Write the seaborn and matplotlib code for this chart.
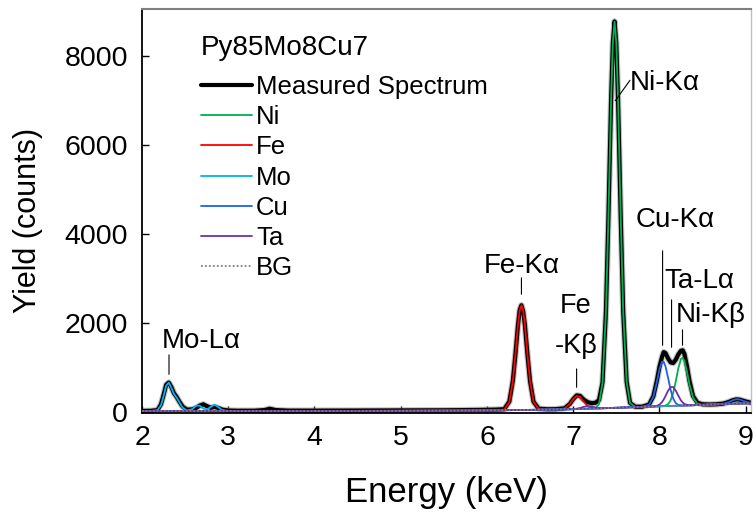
"""EDX spectrum of Py85Mo8Cu7: measured spectrum with fitted element lines and background."""

import numpy as np
import matplotlib
matplotlib.use("Agg")
import matplotlib.pyplot as plt
import matplotlib.patheffects as pe
import seaborn as sns

# energy grid (keV), denser around the peaks
energy = [2.00, 2.10, 2.18, 2.22, 2.25, 2.28, 2.31, 2.34, 2.37, 2.40, 2.43, 2.47, 2.52, 2.58, 2.63, 2.67, 2.71, 2.75, 2.80, 2.84, 2.88, 2.93, 3.00, 3.10,
          3.30, 3.42, 3.48, 3.55, 3.70, 4.00, 4.50, 5.00, 5.50, 5.90, 6.10,
          6.20, 6.26, 6.30, 6.33, 6.36, 6.38, 6.40, 6.42, 6.44, 6.47, 6.50, 6.54, 6.60, 6.70,
          6.80, 6.90, 6.96, 7.00, 7.04, 7.08, 7.12, 7.17, 7.22, 7.26, 7.30, 7.34, 7.38, 7.41, 7.44, 7.46, 7.48, 7.50, 7.52, 7.55, 7.58, 7.62, 7.66, 7.72, 7.80,
          7.88, 7.93, 7.97, 8.00, 8.03, 8.05, 8.07, 8.10, 8.13, 8.16, 8.19, 8.22, 8.25, 8.27, 8.29, 8.32, 8.35, 8.39, 8.44, 8.50, 8.58,
          8.66, 8.74, 8.80, 8.85, 8.89, 8.93, 8.98, 9.04, 9.10]

# measured spectrum (counts)
measured = [15, 18, 35, 165, 375, 605, 655, 555, 415, 335, 235, 115, 45, 50, 85, 135, 165, 125, 85, 105, 85, 45, 25, 20,
            20, 35, 65, 35, 22, 22, 24, 28, 30, 38, 45,
            55, 227, 688, 1281, 1951, 2290, 2396, 2260, 1953, 1284, 683, 224, 65, 53,
            55, 75, 170, 280, 365, 355, 275, 210, 190, 200, 260, 655, 2250, 4480, 7050, 8310, 8790, 8310, 7060, 4490, 2260, 670, 195, 110, 110,
            160, 345, 690, 1000, 1230, 1340, 1320, 1200, 1110, 1095, 1170, 1290, 1370, 1380, 1300, 1020, 680, 350, 200, 165, 160,
            165, 180, 215, 255, 275, 270, 240, 210, 200]

# fitted background (counts)
bg = [15, 15, 15, 15, 15, 15, 15, 15, 15, 15, 15, 15, 15, 15, 15, 15, 15, 15, 15, 15, 15, 15, 15, 15,
      15, 15, 15, 15, 15, 15, 16, 18, 21, 26, 30,
      32, 33, 34, 35, 35, 36, 36, 37, 37, 38, 39, 40, 42, 45,
      48, 51, 53, 55, 57, 59, 61, 64, 67, 70, 72, 75, 78, 80, 82, 83, 85, 86, 87, 89, 92, 94, 97, 101, 107,
      112, 115, 118, 120, 122, 123, 124, 126, 128, 130, 131, 133, 135, 136, 137, 139, 141, 144, 148, 152, 158,
      164, 170, 174, 177, 180, 182, 185, 188, 190]

# fitted element lines above background (counts)
ni_peak = [0] * 24 + [0] * 11 + [0] * 14 + \
          [0, 0, 0, 0, 0, 0, 0, 0, 0, 10, 96, 574, 2166, 4402, 6969, 8230, 8700, 8230, 6969, 4402, 2166, 574, 96, 3, 0] + \
          [0, 0, 0, 0, 1, 4, 12, 43, 124, 292, 555, 850, 1052, 1077, 1003, 755, 459, 171, 29, 2, 0] + [0] * 9
fe_peak = [0] * 24 + [0] * 11 + \
          [13, 184, 644, 1246, 1916, 2240, 2360, 2240, 1916, 1246, 644, 184, 13, 0] + \
          [0, 21, 115, 223, 296, 270, 168, 54, 10, 1] + [0] * 15 + [0] * 21 + [0] * 9
mo_peak = [0, 0, 17, 127, 336, 569, 639, 521, 384, 303, 209, 74, 9, 39, 118, 118, 55, 30, 95, 140, 94, 19, 0, 0] + \
          [0] * 11 + [0] * 14 + [0] * 25 + [0] * 21 + [0] * 9
cu_peak = [0] * 24 + [0] * 11 + [0] * 14 + [0] * 24 + [1] + \
          [40, 219, 545, 826, 997, 997, 902, 641, 364, 165, 60, 17, 4, 1, 0, 0, 0, 0, 0, 0, 0] + \
          [0, 7, 36, 78, 99, 91, 52, 14, 2]
ta_peak = [0] * 24 + [0] * 11 + [0] * 14 + \
          [0, 0, 0, 0, 8, 23, 45, 60, 45, 23, 8, 2] + [0] * 13 + \
          [0, 2, 12, 36, 91, 150, 224, 342, 424, 424, 342, 224, 117, 69, 36, 12, 3, 0, 0, 0, 0] + [0] * 9

series_labels = ["Ni", "Fe", "Mo", "Cu", "Ta"]
series_colors = ["#00b050", "#ff0000", "#00b0f0", "#1f62e6", "#7030a0"]

sample_name = "Py85Mo8Cu7"

# peak labels: text, font size, baseline position, leader line
peak_labels = [
    ("Mo-Lα", 20, (2.684, 1431), ((2.313, 1341), (2.313, 777))),
    ("Fe-Kα", 20, (6.409, 3121), ((6.40, 3076), (6.40, 2580))),
    ("Fe", 19.5, (7.03, 2220), None),
    ("-Kβ", 19.5, (7.03, 1318), ((7.04, 1025), (7.04, 485))),
    ("Ni-Kα", 20, (8.06, 7245), ((7.678, 7515), (7.469, 6952))),
    ("Cu-Kα", 20, (8.188, 4158), ((8.037, 3685), (8.037, 1431))),
    ("Ta-Lα", 20, (8.466, 2779), ((8.141, 2580), (8.141, 1386))),
    ("Ni-Kβ", 20, (8.593, 2017), ((8.268, 1904), (8.268, 1431))),
]

############################################
sns.set_style("ticks")
plt.rcParams["font.family"] = ["Liberation Sans", "DejaVu Sans"]
plt.rcParams.update({"text.color": "black", "axes.labelcolor": "black",
                     "xtick.color": "black", "ytick.color": "black"})

fig, ax = plt.subplots(figsize=(7.53, 5.17), dpi=100)
fig.subplots_adjust(left=0.1886, right=0.998, bottom=0.2017, top=0.9826)

bg_arr = np.array(bg)
peaks = [ni_peak, fe_peak, mo_peak, cu_peak, ta_peak]

# measured spectrum below the fitted curves
sns.lineplot(x=energy, y=measured, color="black", lw=3, estimator=None,
             label="Measured Spectrum", ax=ax, zorder=2)
ax.lines[-1].set_path_effects([pe.Stroke(linewidth=4.6, foreground="#9a9a9a", alpha=0.6), pe.Normal()])
for lab, col, pk in zip(series_labels, series_colors, peaks):
    sns.lineplot(x=energy, y=bg_arr + np.array(pk), color=col, lw=1.3, estimator=None,
                 label=lab, ax=ax, zorder=3)
sns.lineplot(x=energy, y=bg, color="#808080", lw=1.2, linestyle=(0, (1, 1.2)), estimator=None,
             label="BG", ax=ax, zorder=4)

# peak labels with leader lines
for txt, fs, (tx, ty), line in peak_labels:
    ax.text(tx, ty, txt, fontsize=fs, ha="center", va="baseline")
    if line is not None:
        ax.annotate("", xy=line[1], xytext=line[0],
                    arrowprops=dict(arrowstyle="-", color="black", lw=0.8))

ax.set_xlim(2, 9.068)
ax.set_ylim(-25, 9070)
ax.set_xticks(range(2, 10))
ax.set_yticks(range(0, 8001, 2000))
ax.tick_params(direction="in", length=5, width=1, labelsize=20.5, color="black")
ax.tick_params(axis="x", pad=9)
ax.tick_params(axis="y", pad=10)

ax.set_xlabel("Energy (keV)", fontsize=25, labelpad=18)
ax.set_ylabel("Yield (counts)", fontsize=22)
ax.yaxis.set_label_coords(-0.162, 0.477)

for side in ["left", "bottom"]:
    ax.spines[side].set_color("black")
    ax.spines[side].set_linewidth(1.3)
ax.spines["top"].set_color("#7f7f7f")
ax.spines["top"].set_linewidth(1.5)
ax.spines["right"].set_color("#c0c0c0")
ax.spines["right"].set_linewidth(1)

# sample name above the legend entries
ax.text(0.0967, 0.886, sample_name, fontsize=20, ha="left", va="baseline", transform=ax.transAxes)

leg = ax.legend(loc="upper left", bbox_to_anchor=(0.0967, 0.8355),
                frameon=False, fontsize=18.5, handlelength=2.0,
                handletextpad=0.15, labelspacing=0.235, borderpad=0, borderaxespad=0)
for line in leg.get_lines():
    line.set_linewidth(1.3)
    line.set_path_effects([])
leg.get_lines()[0].set_linewidth(3)

plt.savefig("out.png", dpi=100)
plt.close()
